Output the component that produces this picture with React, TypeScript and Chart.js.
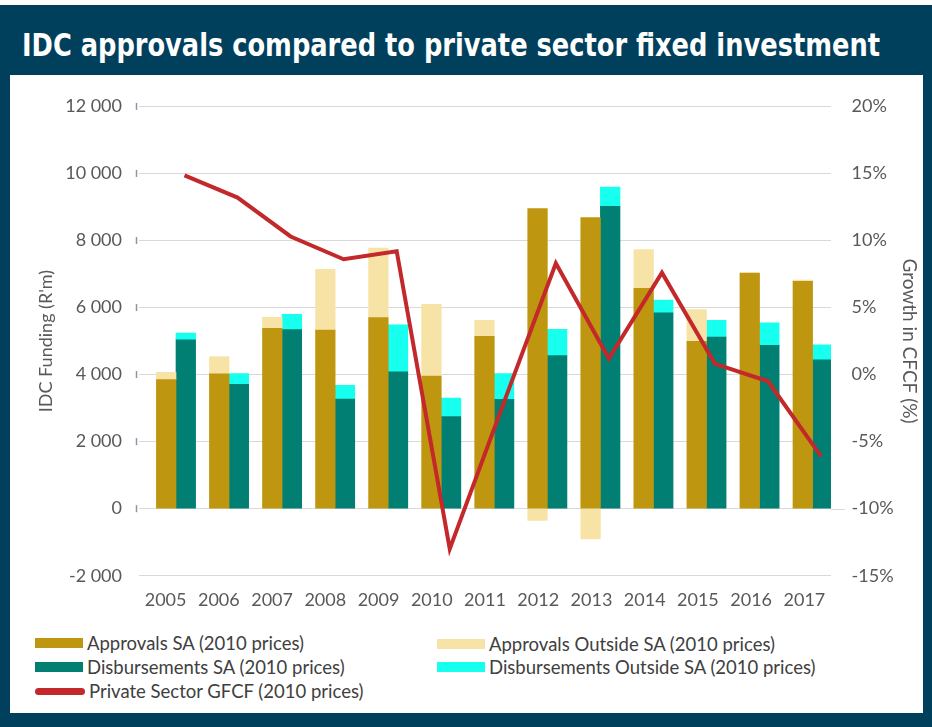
import React, { useEffect, useLayoutEffect, useRef } from 'react';
import { Chart, registerables } from 'chart.js';

Chart.register(...registerables);

// ---- data ----
const years = ['2005', '2006', '2007', '2008', '2009', '2010', '2011', '2012', '2013', '2014', '2015', '2016', '2017'];
const approvalsSA = [3850, 4020, 5380, 5330, 5700, 3955, 5140, 8950, 8680, 6575, 4990, 7030, 6780];
const approvalsOutsideSA = [220, 520, 330, 1810, 2070, 2140, 480, -350, -900, 1155, 950, 0, 40];
const disbursementsSA = [5040, 3710, 5340, 3270, 4085, 2750, 3260, 4570, 9020, 5840, 5120, 4870, 4440];
const disbursementsOutsideSA = [200, 320, 460, 410, 1400, 550, 770, 780, 570, 380, 500, 670, 450];
const privateGFCF = [14.85, 13.2, 10.3, 8.6, 9.2, -13.0, -2.3, 8.3, 1.2, 7.6, 0.8, -0.5, -6.1];

const leftTicks = { min: -2000, max: 12000, step: 2000 };
const rightTicks = { min: -15, max: 20, step: 5 };

const seriesNames = [
  'Approvals SA (2010 prices)',
  'Approvals Outside SA (2010 prices)',
  'Disbursements SA (2010 prices)',
  'Disbursements Outside SA (2010 prices)',
  'Private Sector GFCF (2010 prices)',
];
const title = 'IDC approvals compared to private sector fixed investment';
const leftAxisTitle = "IDC Funding (R'm)";
const rightAxisTitle = 'Growth in CFCF (%)';

// ---- styles ----
const GOLD = '#BF960F';
const PALE = '#F8E3A6';
const TEAL = '#007F72';
const CYAN = '#17FFEE';
const RED = '#C3282B';
const NAVY = '#01405D';
const GRID = '#d9d9d9';
const TEXT = '#595959';
const FONT = 'Lato, "Open Sans", sans-serif';
const BAR_W = 19.6;
// hidden x-axis windows (in category units) that place each series like the original
const SPAN = 13.0445;
const approvalsAxisStart = 0.5127;
const disbursementsAxisStart = 0.8822;
const lineAxisStart = 0.8577;

const fmtThousands = (v: number) => {
  const s = Math.abs(v).toString().replace(/\B(?=(\d{3})+(?!\d))/g, ' ');
  return (v < 0 ? '-' : '') + s;
};

const axisMarks = {
  id: 'axisMarks',
  afterDraw(chart: any) {
    const { ctx, chartArea, scales } = chart;
    const y = scales.y;
    ctx.save();
    ctx.strokeStyle = GRID;
    ctx.lineWidth = 1;
    const y0 = Math.round(y.getPixelForValue(0)) + 0.5;
    ctx.beginPath();
    ctx.moveTo(chartArea.right, y0);
    ctx.lineTo(chartArea.right + 14, y0);
    ctx.stroke();
    ctx.strokeStyle = '#a08aa8';
    ctx.lineWidth = 1.5;
    for (const t of y.ticks) {
      if (t.value < 0) continue;
      const py = y.getPixelForValue(t.value);
      ctx.beginPath();
      ctx.moveTo(chartArea.left - 2.5, py - 3.5);
      ctx.lineTo(chartArea.left - 2.5, py + 3.5);
      ctx.stroke();
    }
    ctx.restore();
  },
};

const firstYear = Number(years[0]);

export default function App() {
  const canvasRef = useRef<HTMLCanvasElement | null>(null);
  const titleRef = useRef<HTMLSpanElement | null>(null);

  useLayoutEffect(() => {
    const el = titleRef.current;
    if (!el) return;
    const w = el.getBoundingClientRect().width;
    if (w > 0) el.style.transform = `scaleX(${858 / w})`;
  }, []);

  useEffect(() => {
    if (!canvasRef.current) return;
    const yearTicks = (s: any) => { s.ticks = years.map((y) => ({ value: Number(y) })); };
    const hiddenAxis = (start: number) => ({
      type: 'linear',
      display: false,
      offset: false,
      min: firstYear - start,
      max: firstYear - start + SPAN,
      afterBuildTicks: yearTicks,
    });
    const barStyle = { yAxisID: 'y', order: 1, barThickness: BAR_W, borderWidth: 0, grouped: false };
    const chart = new Chart(canvasRef.current, {
      type: 'bar',
      data: {
        labels: years,
        datasets: [
          { type: 'bar', label: seriesNames[0], data: approvalsSA, backgroundColor: GOLD, stack: 'approvals', xAxisID: 'xa', ...barStyle },
          { type: 'bar', label: seriesNames[1], data: approvalsOutsideSA, backgroundColor: PALE, stack: 'approvals', xAxisID: 'xa', ...barStyle },
          { type: 'bar', label: seriesNames[2], data: disbursementsSA, backgroundColor: TEAL, stack: 'disbursements', xAxisID: 'xd', ...barStyle },
          { type: 'bar', label: seriesNames[3], data: disbursementsOutsideSA, backgroundColor: CYAN, stack: 'disbursements', xAxisID: 'xd', ...barStyle },
          { type: 'line', label: seriesNames[4], data: privateGFCF, borderColor: RED, backgroundColor: RED, borderWidth: 4, pointRadius: 0, tension: 0, borderJoinStyle: 'miter', xAxisID: 'xl', yAxisID: 'y2', order: 0 } as any,
        ],
      },
      options: {
        animation: false,
        responsive: true,
        maintainAspectRatio: false,
        layout: { padding: { top: 31, left: 0, right: 0, bottom: 0 } },
        plugins: { legend: { display: false }, tooltip: { enabled: false } },
        scales: {
          x: {
            type: 'category',
            position: 'bottom',
            offset: true,
            grid: { display: false, drawTicks: false },
            border: { display: false },
            ticks: { color: TEXT, font: { family: FONT, size: 18 }, padding: 13.5, maxRotation: 0, autoSkip: false },
            afterFit: (s: any) => { s.height = 49.3; },
          },
          xa: hiddenAxis(approvalsAxisStart),
          xd: hiddenAxis(disbursementsAxisStart),
          xl: hiddenAxis(lineAxisStart),
          y: {
            type: 'linear',
            position: 'left',
            stacked: true,
            min: leftTicks.min,
            max: leftTicks.max,
            ticks: { stepSize: leftTicks.step, color: TEXT, font: { family: FONT, size: 18 }, padding: 17, callback: (v: any) => fmtThousands(Number(v)) },
            grid: { color: GRID, lineWidth: 1, drawTicks: false },
            border: { display: false },
            title: { display: true, text: leftAxisTitle, color: TEXT, font: { family: FONT, size: 18 }, padding: { top: 25, bottom: 0 } },
            afterFit: (s: any) => { s.width = 129; },
          },
          y2: {
            type: 'linear',
            position: 'right',
            min: rightTicks.min,
            max: rightTicks.max,
            ticks: { stepSize: rightTicks.step, color: TEXT, font: { family: FONT, size: 18 }, padding: 20.6, callback: (v: any) => `${v}%` },
            grid: { display: false, drawTicks: false },
            border: { display: false },
            title: { display: true, text: rightAxisTitle, color: TEXT, font: { family: FONT, size: 19 }, padding: { top: 2, bottom: 0 } },
            afterFit: (s: any) => { s.width = 92; },
          },
        },
      } as any,
      plugins: [axisMarks],
    });
    return () => chart.destroy();
  }, []);

  const legendItems = [
    { name: seriesNames[0], color: GOLD, kind: 'box', left: 35, top: 643 },
    { name: seriesNames[1], color: PALE, kind: 'box', left: 437, top: 644 },
    { name: seriesNames[2], color: TEAL, kind: 'box', left: 35, top: 667 },
    { name: seriesNames[3], color: CYAN, kind: 'box', left: 437, top: 667 },
    { name: seriesNames[4], color: RED, kind: 'line', left: 35, top: 691 },
  ];

  return (
    <div style={{ position: 'absolute', left: 0, top: 0, width: 932, height: 727, background: '#ffffff', overflow: 'hidden' }}>
      <div style={{ position: 'absolute', left: 0, top: 5, width: 932, height: 722, background: NAVY }} />
      <div style={{ position: 'absolute', left: 22, top: 25, lineHeight: '40px', whiteSpace: 'nowrap' }}>
        <span
          ref={titleRef}
          style={{
            display: 'inline-block', transformOrigin: 'left center',
            color: '#ffffff', fontWeight: 'bold', fontSize: 32,
            fontFamily: '"Liberation Sans Narrow", "DejaVu Sans Condensed", "Liberation Sans", sans-serif',
          }}
        >
          {title}
        </span>
      </div>
      <div style={{ position: 'absolute', left: 10, top: 75, width: 913, height: 638, background: '#ffffff' }} />
      <div style={{ position: 'absolute', left: 10, top: 75, width: 913, height: 550 }}>
        <canvas ref={canvasRef} />
      </div>
      {legendItems.map((it) => (
        <div key={it.name} style={{ position: 'absolute', left: it.left, top: it.top - 11, height: 22, display: 'flex', alignItems: 'center', whiteSpace: 'nowrap' }}>
          {it.kind === 'box' ? (
            <span style={{ display: 'inline-block', width: 48, height: 10, background: it.color }} />
          ) : (
            <span style={{ display: 'inline-block', width: 50, height: 7, borderRadius: 4, background: it.color }} />
          )}
          <span style={{ marginLeft: 4, fontFamily: FONT, fontSize: 18.5, color: '#404040' }}>{it.name}</span>
        </div>
      ))}
    </div>
  );
}
